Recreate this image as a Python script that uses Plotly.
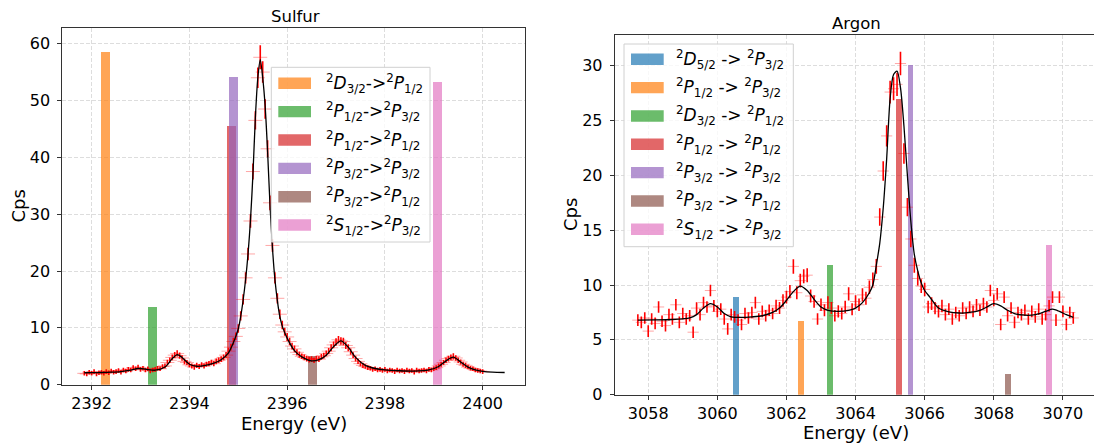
import plotly.graph_objects as go

# ---------------- data: Sulfur ----------------
s_energy = [
    2391.85, 2391.90, 2391.95, 2392.00, 2392.05, 2392.10, 2392.15, 2392.20, 2392.25, 2392.30,
    2392.35, 2392.40, 2392.45, 2392.50, 2392.55, 2392.60, 2392.65, 2392.70, 2392.75, 2392.80,
    2392.85, 2392.90, 2392.95, 2393.00, 2393.05, 2393.10, 2393.15, 2393.20, 2393.25, 2393.30,
    2393.35, 2393.40, 2393.45, 2393.50, 2393.55, 2393.60, 2393.65, 2393.70, 2393.75, 2393.80,
    2393.85, 2393.90, 2393.95, 2394.00, 2394.05, 2394.10, 2394.15, 2394.20, 2394.25, 2394.30,
    2394.35, 2394.40, 2394.45, 2394.50, 2394.55, 2394.60, 2394.65, 2394.70, 2394.75, 2394.80,
    2394.85, 2394.90, 2394.95, 2395.00, 2395.05, 2395.10, 2395.15, 2395.20, 2395.25, 2395.30,
    2395.35, 2395.40, 2395.45, 2395.50, 2395.55, 2395.60, 2395.65, 2395.70, 2395.75, 2395.80,
    2395.85, 2395.90, 2395.95, 2396.00, 2396.05, 2396.10, 2396.15, 2396.20, 2396.25, 2396.30,
    2396.35, 2396.40, 2396.45, 2396.50, 2396.55, 2396.60, 2396.65, 2396.70, 2396.75, 2396.80,
    2396.85, 2396.90, 2396.95, 2397.00, 2397.05, 2397.10, 2397.15, 2397.20, 2397.25, 2397.30,
    2397.35, 2397.40, 2397.45, 2397.50, 2397.55, 2397.60, 2397.65, 2397.70, 2397.75, 2397.80,
    2397.85, 2397.90, 2397.95, 2398.00, 2398.05, 2398.10, 2398.15, 2398.20, 2398.25, 2398.30,
    2398.35, 2398.40, 2398.45, 2398.50, 2398.55, 2398.60, 2398.65, 2398.70, 2398.75, 2398.80,
    2398.85, 2398.90, 2398.95, 2399.00, 2399.05, 2399.10, 2399.15, 2399.20, 2399.25, 2399.30,
    2399.35, 2399.40, 2399.45, 2399.50, 2399.55, 2399.60, 2399.65, 2399.70, 2399.75, 2399.80,
    2399.85, 2399.90, 2399.95, 2400.00,
]
s_cps = [
    2.0, 1.9, 2.2, 2.0, 2.3, 1.9, 2.1, 2.2, 2.0, 2.3,
    2.1, 2.4, 2.2, 2.3, 2.5, 2.2, 2.6, 2.4, 2.7, 2.6,
    3.0, 2.8, 3.1, 2.7, 2.9, 2.6, 2.8, 2.4, 2.6, 2.7,
    2.9, 2.8, 3.2, 3.3, 3.9, 4.3, 4.8, 5.2, 5.5, 5.1,
    4.7, 4.1, 3.9, 3.5, 3.3, 3.1, 3.4, 3.2, 3.5, 3.3,
    3.6, 3.7, 3.9, 3.7, 4.1, 4.3, 4.5, 4.8, 5.2, 5.9,
    6.6, 7.6, 8.5, 9.9, 12.1, 15.0, 18.8, 23.0, 28.8, 37.5,
    46.5, 54.0, 57.6, 55.0, 48.5, 41.5, 32.0, 24.5, 18.8, 15.2,
    12.4, 10.5, 9.3, 8.4, 7.6, 6.8, 6.3, 5.7, 5.3, 5.0,
    4.8, 4.6, 4.4, 4.5, 4.3, 4.6, 4.5, 4.9, 5.1, 5.5,
    5.9, 6.5, 7.0, 7.5, 7.9, 7.7, 7.6, 6.9, 6.5, 5.8,
    5.2, 4.6, 4.1, 3.7, 3.4, 3.2, 3.0, 2.9, 2.7, 2.8,
    2.6, 2.7, 2.5, 2.7, 2.4, 2.6, 2.5, 2.3, 2.6, 2.4,
    2.5, 2.3, 2.6, 2.4, 2.5, 2.2, 2.6, 2.4, 2.5, 2.6,
    2.4, 2.7, 2.6, 2.8, 3.0, 3.3, 3.6, 3.9, 4.3, 4.6,
    4.8, 5.0, 4.7, 4.3, 4.0, 3.6, 3.4, 3.1, 2.9, 2.8,
    2.6, 2.5, 2.4, 2.3,
]
s_err = [
    0.4, 0.4, 0.4, 0.4, 0.4, 0.4, 0.4, 0.4, 0.4, 0.4,
    0.4, 0.4, 0.4, 0.4, 0.4, 0.4, 0.4, 0.4, 0.4, 0.4,
    0.4, 0.4, 0.4, 0.4, 0.4, 0.4, 0.4, 0.4, 0.4, 0.4,
    0.4, 0.4, 0.4, 0.45, 0.5, 0.5, 0.5, 0.55, 0.55, 0.55,
    0.5, 0.5, 0.45, 0.45, 0.45, 0.45, 0.45, 0.45, 0.45, 0.45,
    0.45, 0.45, 0.5, 0.45, 0.5, 0.5, 0.5, 0.5, 0.55, 0.6,
    0.6, 0.65, 0.7, 0.75, 0.8, 0.9, 1.0, 1.1, 1.2, 1.4,
    1.6, 1.8, 2.1, 1.9, 1.7, 1.5, 1.3, 1.1, 1.0, 0.9,
    0.85, 0.75, 0.7, 0.7, 0.65, 0.6, 0.6, 0.55, 0.55, 0.5,
    0.5, 0.5, 0.5, 0.5, 0.5, 0.5, 0.5, 0.5, 0.5, 0.5,
    0.55, 0.6, 0.6, 0.65, 0.65, 0.65, 0.65, 0.6, 0.6, 0.55,
    0.5, 0.5, 0.45, 0.45, 0.45, 0.4, 0.4, 0.4, 0.4, 0.4,
    0.4, 0.4, 0.4, 0.4, 0.4, 0.4, 0.4, 0.4, 0.4, 0.4,
    0.4, 0.4, 0.4, 0.4, 0.4, 0.4, 0.4, 0.4, 0.4, 0.4,
    0.4, 0.4, 0.4, 0.4, 0.4, 0.45, 0.45, 0.45, 0.5, 0.5,
    0.5, 0.55, 0.5, 0.5, 0.45, 0.45, 0.45, 0.4, 0.4, 0.4,
    0.4, 0.4, 0.4, 0.4,
]
s_fit_energy = [
    2391.85, 2392.0, 2392.2, 2392.4, 2392.6, 2392.8, 2392.95, 2393.1, 2393.3, 2393.5,
    2393.65, 2393.75, 2393.85, 2394.0, 2394.15, 2394.3, 2394.5, 2394.65, 2394.8, 2394.9,
    2395.0, 2395.05, 2395.1, 2395.15, 2395.2, 2395.25, 2395.3, 2395.35, 2395.4, 2395.45,
    2395.5, 2395.55, 2395.6, 2395.65, 2395.7, 2395.75, 2395.8, 2395.85, 2395.9, 2396.0,
    2396.15, 2396.3, 2396.5, 2396.65, 2396.8, 2396.95, 2397.1, 2397.25, 2397.4, 2397.6,
    2397.8, 2398.0, 2398.3, 2398.6, 2398.9, 2399.1, 2399.25, 2399.4, 2399.55, 2399.7,
    2399.85, 2400.0, 2400.2, 2400.45,
]
s_fit_cps = [
    2.10, 2.12, 2.15, 2.2, 2.3, 2.55, 2.85, 2.75, 2.55, 3.1,
    4.6, 5.3, 4.8, 3.6, 3.25, 3.35, 3.8, 4.4, 5.6, 7.4,
    9.8, 12.0, 14.9, 18.5, 23.0, 29.0, 37.0, 47.0, 54.0, 57.2,
    54.0, 49.0, 41.0, 31.5, 24.0, 18.5, 14.8, 12.0, 10.3, 8.2,
    6.0, 4.9, 4.2, 4.4, 5.2, 6.7, 7.7, 6.6, 4.8, 3.4,
    2.85, 2.6, 2.45, 2.4, 2.6, 3.2, 4.2, 4.85, 4.0, 3.1,
    2.6, 2.35, 2.2, 2.15,
]
s_line_labels = [
    "<sup>2</sup><i>D</i><sub>3/2</sub>-><sup>2</sup><i>P</i><sub>1/2</sub>",
    "<sup>2</sup><i>P</i><sub>1/2</sub>-><sup>2</sup><i>P</i><sub>3/2</sub>",
    "<sup>2</sup><i>P</i><sub>1/2</sub>-><sup>2</sup><i>P</i><sub>1/2</sub>",
    "<sup>2</sup><i>P</i><sub>3/2</sub>-><sup>2</sup><i>P</i><sub>3/2</sub>",
    "<sup>2</sup><i>P</i><sub>3/2</sub>-><sup>2</sup><i>P</i><sub>1/2</sub>",
    "<sup>2</sup><i>S</i><sub>1/2</sub>-><sup>2</sup><i>P</i><sub>3/2</sub>",
]
s_line_energy = [2392.28, 2393.24, 2394.86, 2394.905, 2396.52, 2399.075]
s_line_cps = [58.5, 13.7, 45.6, 54.1, 5.05, 53.2]
s_line_colors = ["#ff7f0e", "#2ca02c", "#d62728", "#9467bd", "#8c564b", "#e377c2"]

# ---------------- data: Argon ----------------
a_energy = [
    3057.7, 3057.8, 3057.9, 3058.0, 3058.1, 3058.2, 3058.3, 3058.4, 3058.5, 3058.6,
    3058.7, 3058.8, 3058.9, 3059.0, 3059.1, 3059.2, 3059.3, 3059.4, 3059.5, 3059.6,
    3059.7, 3059.8, 3059.9, 3060.0, 3060.1, 3060.2, 3060.3, 3060.4, 3060.5, 3060.6,
    3060.7, 3060.8, 3060.9, 3061.0, 3061.1, 3061.2, 3061.3, 3061.4, 3061.5, 3061.6,
    3061.7, 3061.8, 3061.9, 3062.0, 3062.1, 3062.2, 3062.3, 3062.4, 3062.5, 3062.6,
    3062.7, 3062.8, 3062.9, 3063.0, 3063.1, 3063.2, 3063.3, 3063.4, 3063.5, 3063.6,
    3063.7, 3063.8, 3063.9, 3064.0, 3064.1, 3064.2, 3064.3, 3064.4, 3064.5, 3064.6,
    3064.7, 3064.8, 3064.9, 3065.0, 3065.1, 3065.2, 3065.3, 3065.4, 3065.5, 3065.6,
    3065.7, 3065.8, 3065.9, 3066.0, 3066.1, 3066.2, 3066.3, 3066.4, 3066.5, 3066.6,
    3066.7, 3066.8, 3066.9, 3067.0, 3067.1, 3067.2, 3067.3, 3067.4, 3067.5, 3067.6,
    3067.7, 3067.8, 3067.9, 3068.0, 3068.1, 3068.2, 3068.3, 3068.4, 3068.5, 3068.6,
    3068.7, 3068.8, 3068.9, 3069.0, 3069.1, 3069.2, 3069.3, 3069.4, 3069.5, 3069.6,
    3069.7, 3069.8, 3069.9, 3070.0, 3070.1, 3070.2, 3070.3,
]
a_cps = [
    6.8, 6.6, 7.0, 5.8, 6.9, 6.5, 8.0, 6.7, 6.3, 7.3,
    6.9, 8.2, 6.6, 7.4, 6.9, 7.2, 5.7, 7.9, 7.3, 8.4,
    8.0, 9.5, 8.1, 7.6, 7.8, 6.9, 6.0, 7.3, 7.1, 6.8,
    6.4, 7.4, 7.0, 7.5, 8.4, 6.9, 7.6, 7.2, 7.7, 7.4,
    8.1, 7.9, 8.6, 8.9, 9.4, 11.7, 9.3, 10.4, 10.8, 10.9,
    9.0, 8.5, 6.9, 8.2, 7.7, 8.4, 7.9, 7.2, 7.6, 7.4,
    8.0, 9.2, 7.8, 8.5, 8.2, 9.1, 8.8, 9.8, 10.5, 11.7,
    16.2, 20.4, 23.6, 27.6, 27.9, 28.3, 30.2, 22.0, 17.1, 14.2,
    11.8, 10.6, 9.9, 9.6, 8.0, 8.3, 7.9, 7.6, 8.1, 7.3,
    7.8, 6.9, 7.5, 7.2, 7.9, 7.4, 8.0, 7.6, 8.2, 7.7,
    8.3, 8.0, 9.5, 8.6, 9.2, 6.4, 8.9, 7.2, 7.9, 6.6,
    7.5, 7.3, 7.7, 6.9, 7.6, 7.1, 7.8, 6.9, 7.3, 8.1,
    8.9, 6.8, 8.9, 7.6, 6.4, 7.5, 7.0,
]
a_err = (
    [0.53] * 40
    + [0.55, 0.55, 0.57, 0.58, 0.6, 0.66, 0.6, 0.63, 0.64, 0.64]
    + [0.6, 0.58, 0.53, 0.57, 0.55, 0.57, 0.55, 0.53, 0.55, 0.54]
    + [0.56, 0.6, 0.55, 0.58, 0.57, 0.6, 0.59, 0.62, 0.64, 0.68]
    + [0.8, 0.9, 0.97, 1.04, 1.05, 1.06, 1.07, 0.94, 0.83, 0.75]
    + [0.69, 0.65, 0.63, 0.62, 0.57, 0.58, 0.56, 0.55, 0.57, 0.54]
    + [0.53] * 37
)
a_fit_energy = [
    3057.7, 3058.2, 3058.7, 3059.0, 3059.2, 3059.4, 3059.6, 3059.8, 3060.0, 3060.2,
    3060.4, 3060.7, 3061.0, 3061.3, 3061.6, 3061.8, 3062.0, 3062.2, 3062.4, 3062.6,
    3062.8, 3063.0, 3063.2, 3063.5, 3063.8, 3064.0, 3064.2, 3064.4, 3064.5, 3064.6,
    3064.7, 3064.8, 3064.9, 3065.0, 3065.1, 3065.2, 3065.3, 3065.4, 3065.5, 3065.6,
    3065.7, 3065.8, 3065.9, 3066.0, 3066.15, 3066.4, 3066.7, 3067.0, 3067.3, 3067.6,
    3067.8, 3068.0, 3068.2, 3068.4, 3068.6, 3068.9, 3069.2, 3069.5, 3069.7, 3069.9,
    3070.1, 3070.3,
]
a_fit_cps = [
    6.80, 6.82, 6.86, 6.92, 7.0, 7.3, 7.9, 8.3, 8.0, 7.4,
    7.1, 7.05, 7.1, 7.2, 7.5, 7.9, 8.6, 9.4, 9.9, 9.5,
    8.7, 8.0, 7.7, 7.6, 7.7, 7.9, 8.4, 9.3, 10.0, 11.8,
    13.8, 17.0, 21.5, 27.0, 29.2, 29.5, 28.0, 24.5, 20.0, 15.8,
    12.8, 11.3, 10.2, 9.5, 8.9, 7.9, 7.55, 7.45, 7.5, 7.7,
    8.0, 8.3, 8.1, 7.7, 7.4, 7.25, 7.3, 7.6, 7.8, 7.6,
    7.3, 7.05,
]
a_line_labels = [
    "<sup>2</sup><i>D</i><sub>5/2</sub> -> <sup>2</sup><i>P</i><sub>3/2</sub>",
    "<sup>2</sup><i>P</i><sub>1/2</sub> -> <sup>2</sup><i>P</i><sub>3/2</sub>",
    "<sup>2</sup><i>D</i><sub>3/2</sub> -> <sup>2</sup><i>P</i><sub>1/2</sub>",
    "<sup>2</sup><i>P</i><sub>1/2</sub> -> <sup>2</sup><i>P</i><sub>1/2</sub>",
    "<sup>2</sup><i>P</i><sub>3/2</sub> -> <sup>2</sup><i>P</i><sub>3/2</sub>",
    "<sup>2</sup><i>P</i><sub>3/2</sub> -> <sup>2</sup><i>P</i><sub>1/2</sub>",
    "<sup>2</sup><i>S</i><sub>1/2</sub> -> <sup>2</sup><i>P</i><sub>3/2</sub>",
]
a_line_energy = [3060.53, 3062.42, 3063.26, 3065.25, 3065.59, 3068.42, 3069.61]
a_line_cps = [8.88, 6.72, 11.85, 27.0, 30.1, 1.89, 13.65]
a_line_colors = ["#1f77b4", "#ff7f0e", "#2ca02c", "#d62728", "#9467bd", "#8c564b", "#e377c2"]

s_xticks = [2392, 2394, 2396, 2398, 2400]
s_yticks = [0, 10, 20, 30, 40, 50, 60]
a_xticks = [3058, 3060, 3062, 3064, 3066, 3068, 3070]
a_yticks = [0, 5, 10, 15, 20, 25, 30]

# ---------------- layout helpers ----------------
W, H = 1094, 444
FONT = "DejaVu Sans"


def px(x):
    return x / W


def py(y):
    return 1 - y / H


fig = go.Figure()

panels = [
    dict(xa="x", ya="y", bars=(s_line_energy, s_line_cps, s_line_colors), bw=0.18,
         data=(s_energy, s_cps, s_err), fit=(s_fit_energy, s_fit_cps), msize=10),
    dict(xa="x2", ya="y2", bars=(a_line_energy, a_line_cps, a_line_colors), bw=0.17,
         data=(a_energy, a_cps, a_err), fit=(a_fit_energy, a_fit_cps), msize=8),
]

for p in panels:
    be, bc, bcol = p["bars"]
    for e, c, col in zip(be, bc, bcol):
        fig.add_trace(go.Bar(x=[e], y=[c], width=p["bw"], marker=dict(color=col, line=dict(width=0)),
                             opacity=0.7, xaxis=p["xa"], yaxis=p["ya"], showlegend=False))
    de, dc, derr = p["data"]
    fig.add_trace(go.Scatter(
        x=de, y=dc, mode="markers", xaxis=p["xa"], yaxis=p["ya"], showlegend=False,
        marker=dict(symbol="line-ew", size=p["msize"], color="rgba(255,0,0,0.35)",
                    line=dict(width=1, color="rgba(255,0,0,0.35)")),
        error_y=dict(type="data", array=derr, visible=True, color="red", thickness=1.6, width=0),
    ))
    fe, fc = p["fit"]
    fig.add_trace(go.Scatter(x=fe, y=fc, mode="lines", xaxis=p["xa"], yaxis=p["ya"], showlegend=False,
                             line=dict(color="black", width=1.3, shape="spline", smoothing=0.8)))

axis_common = dict(
    showgrid=True, gridcolor="#d4d4d4", griddash="4px,2px", gridwidth=0.8,
    showline=True, linecolor="#333333", linewidth=1,
    ticks="outside", ticklen=4, tickcolor="#333333", tickwidth=1,
    tickfont=dict(family=FONT, size=16, color="black"), zeroline=False, automargin=False,
)

fig.update_layout(
    width=W, height=H, margin=dict(l=0, r=0, t=0, b=0, autoexpand=False),
    paper_bgcolor="white", plot_bgcolor="white", barmode="overlay", bargap=0,
    showlegend=False,
    xaxis=dict(domain=[px(62.3), px(524.7)], range=[2391.40, 2400.86], tickvals=s_xticks,
               mirror=True, anchor="y", **axis_common),
    yaxis=dict(domain=[py(384.7), py(28.3)], range=[0, 62.7], tickvals=s_yticks,
               mirror=True, anchor="x", ticklabelstandoff=4, **axis_common),
    xaxis2=dict(domain=[px(614.7), 1.0], range=[3057.03, 3070.90], tickvals=a_xticks,
                mirror=True, anchor="y2", **axis_common),
    yaxis2=dict(domain=[py(394.7), py(34.7)], range=[0, 32.83], tickvals=a_yticks,
                mirror=False, anchor="x2", ticklabelstandoff=4, **axis_common),
)

ann = []
shapes = []
# titles and axis labels
ann.append(dict(text="Sulfur", x=px(295), y=py(17), font=dict(family=FONT, size=16.5, color="black")))
ann.append(dict(text="Argon", x=px(856), y=py(23), font=dict(family=FONT, size=16.5, color="black")))
ann.append(dict(text="Energy (eV)", x=px(293.5), y=py(423), font=dict(family=FONT, size=18, color="black")))
ann.append(dict(text="Energy (eV)", x=px(856), y=py(432), font=dict(family=FONT, size=18, color="black")))
ann.append(dict(text="Cps", x=px(18), y=py(206.5), textangle=-90, font=dict(family=FONT, size=18, color="black")))
ann.append(dict(text="Cps", x=px(570), y=py(215), textangle=-90, font=dict(family=FONT, size=18, color="black")))

# manual legends (matplotlib style)
legends = [
    dict(box=(271.3, 67.3, 430.0, 242.0), row0=83.3, dy=28.35, patch=(278.3, 311.0), tx=324.0,
         labels=s_line_labels, colors=s_line_colors),
    dict(box=(624.0, 44.0, 793.3, 246.7), row0=59.3, dy=28.33, patch=(631.0, 663.7), tx=674.0,
         labels=a_line_labels, colors=a_line_colors),
]
for lg in legends:
    x0, y0, x1, y1 = lg["box"]
    shapes.append(dict(type="rect", xref="paper", yref="paper", x0=px(x0), x1=px(x1), y0=py(y1), y1=py(y0),
                       line=dict(color="#d0d0d0", width=1), fillcolor="rgba(255,255,255,0.8)", layer="above"))
    for i, (lab, col) in enumerate(zip(lg["labels"], lg["colors"])):
        yc = lg["row0"] + i * lg["dy"]
        shapes.append(dict(type="rect", xref="paper", yref="paper", x0=px(lg["patch"][0]), x1=px(lg["patch"][1]),
                           y0=py(yc + 5.7), y1=py(yc - 5.7), line=dict(width=0), fillcolor=col,
                           opacity=0.7, layer="above"))
        ann.append(dict(text=lab, x=px(lg["tx"]), y=py(yc), xanchor="left",
                        font=dict(family=FONT, size=17, color="black")))

for a in ann:
    a.setdefault("xref", "paper")
    a.setdefault("yref", "paper")
    a.setdefault("showarrow", False)
    a.setdefault("xanchor", "center")
    a.setdefault("yanchor", "middle")

fig.update_layout(annotations=ann, shapes=shapes)
fig.write_html(
    "out.html",
    config={"displayModeBar": False, "staticPlot": True},
    post_script="document.body.style.margin='0';document.body.style.padding='0';"
                "document.body.style.overflow='hidden';",
)
